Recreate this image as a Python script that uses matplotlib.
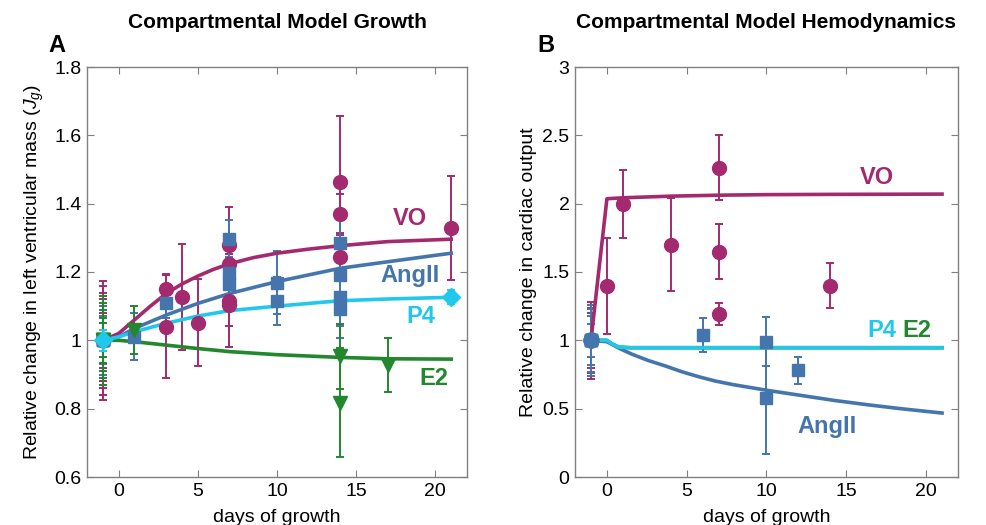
import numpy as np
import matplotlib
matplotlib.use("Agg")
import matplotlib.pyplot as plt

plt.rcParams['font.family'] = ['Liberation Sans', 'DejaVu Sans']
plt.rcParams['mathtext.fontset'] = 'custom'
plt.rcParams['mathtext.it'] = 'Liberation Sans:italic'
plt.rcParams['mathtext.rm'] = 'Liberation Sans'

# colours
c_vo = '#A32A6E'
c_ang = '#4475AD'
c_p4 = '#22C8EC'
c_e2 = '#23872D'

# ---------------- panel A: growth ----------------
# data points (day, value, error)
vo_x = [-1, -1, -1, -1, -1, -1, 3, 3, 4, 5, 7, 7, 7, 7, 14, 14, 14, 21]
vo_y = [1, 1, 1, 1, 1, 1, 1.149, 1.04, 1.126, 1.052, 1.28, 1.223, 1.116, 1.103, 1.4625, 1.369, 1.245, 1.328]
vo_e = [0.175, 0.16, 0.14, 0.12, 0.1, 0.08, 0.045, 0.15, 0.155, 0.127, 0.11, 0.06, 0.136, 0.06, 0.195, 0.06, 0.07, 0.152]

ang_x = [-1, -1, -1, -1, 1, 3, 7, 7, 7, 10, 10, 14, 14, 14, 14]
ang_y = [1, 1, 1, 1, 1.011, 1.11, 1.297, 1.196, 1.165, 1.169, 1.116, 1.285, 1.191, 1.126, 1.091]
ang_e = [0.13, 0.1, 0.07, 0.05, 0.07, 0.045, 0.055, 0.07, 0.08, 0.093, 0.07, 0.1, 0.1, 0.12, 0.05]

p4_x = [-1, 21]
p4_y = [1, 1.126]
p4_e = [0.03, 0.02]

e2_x = [-1, -1, -1, -1, -1, 1, 14, 14, 17]
e2_y = [1, 1, 1, 1, 1, 1.03, 0.954, 0.818, 0.928]
e2_e = [0.13, 0.11, 0.09, 0.065, 0.05, 0.07, 0.095, 0.16, 0.08]

# model curves
vo_cx = [-1, 0, 1, 2, 3, 4, 5, 6, 7, 8.5, 10, 12, 14, 17, 21]
vo_cy = [1.0, 1.02, 1.06, 1.10, 1.137, 1.165, 1.188, 1.208, 1.224, 1.242, 1.255, 1.267, 1.277, 1.289, 1.296]
ang_cx = [-1, 0, 1, 3, 5, 7, 10, 14, 17, 21]
ang_cy = [1.0, 1.01, 1.035, 1.074, 1.108, 1.137, 1.172, 1.211, 1.23, 1.255]
p4_cx = [-1, 0, 1, 3, 5, 7, 10, 14, 17, 21]
p4_cy = [1.0, 1.01, 1.025, 1.05, 1.071, 1.087, 1.10, 1.116, 1.121, 1.126]
e2_cx = [-1, 0, 1, 3, 5, 7, 10, 14, 17, 21]
e2_cy = [1.0, 1.0, 0.996, 0.986, 0.976, 0.967, 0.958, 0.95, 0.946, 0.945]

# ---------------- panel B: hemodynamics ----------------
vo2_x = [-1, -1, -1, -1, 0, 1, 4, 7, 7, 7, 14]
vo2_y = [1, 1, 1, 1, 1.40, 2.0, 1.70, 2.264, 1.648, 1.195, 1.40]
vo2_e = [0.28, 0.26, 0.24, 0.2, 0.35, 0.25, 0.34, 0.235, 0.2, 0.08, 0.165]

ang2_x = [-1, -1, -1, -1, 6, 10, 10, 12]
ang2_y = [1, 1, 1, 1, 1.04, 0.99, 0.58, 0.78]
ang2_e = [0.26, 0.23, 0.18, 0.12, 0.125, 0.18, 0.41, 0.1]

vo2_cx = [-1, 0, 1, 4, 7, 10, 14, 21]
vo2_cy = [1.0, 2.036, 2.043, 2.055, 2.062, 2.066, 2.068, 2.07]
ang2_cx = [-1, 0, 0.4, 0.8, 1.6, 2.6, 3.7, 4.7, 5.8, 6.8, 7.9, 10.0, 12.1, 14.2, 16.3, 18.4, 21]
ang2_cy = [1.0, 0.99, 0.965, 0.94, 0.897, 0.852, 0.811, 0.77, 0.732, 0.702, 0.676, 0.635, 0.598, 0.561, 0.529, 0.5, 0.468]
p42_cx = [-1, 0, 0.3, 0.75, 1.5, 21]
p42_cy = [1.0, 1.0, 0.975, 0.95, 0.946, 0.946]

fig = plt.figure(figsize=(9.87, 5.25), dpi=100)
axA = fig.add_axes([87 / 987, 48 / 525, 380 / 987, 410 / 525])
axB = fig.add_axes([575 / 987, 48 / 525, 383 / 987, 410 / 525])

eb = dict(linestyle='none', elinewidth=1.4, capsize=3, capthick=1.4)

# panel A
axA.errorbar(vo_x, vo_y, yerr=vo_e, fmt='o', color=c_vo, ms=10, **eb)
axA.errorbar(ang_x, ang_y, yerr=ang_e, fmt='s', color=c_ang, ms=8, **eb)
axA.errorbar(e2_x, e2_y, yerr=e2_e, fmt='v', color=c_e2, ms=10, **eb)
axA.plot(vo_cx, vo_cy, color=c_vo, lw=2.6)
axA.plot(ang_cx, ang_cy, color=c_ang, lw=2.6)
axA.plot(e2_cx, e2_cy, color=c_e2, lw=2.6)
axA.plot(p4_cx, p4_cy, color=c_p4, lw=2.6)
axA.errorbar(p4_x, p4_y, yerr=p4_e, fmt='D', color=c_p4, ms=9, zorder=5, **eb)

axA.text(18.4, 1.357, 'VO', color=c_vo, fontsize=17, fontweight='bold', ha='center', va='center')
axA.text(18.4, 1.191, 'AngII', color=c_ang, fontsize=17, fontweight='bold', ha='center', va='center')
axA.text(19.1, 1.069, 'P4', color=c_p4, fontsize=17, fontweight='bold', ha='center', va='center')
axA.text(19.9, 0.889, 'E2', color=c_e2, fontsize=17, fontweight='bold', ha='center', va='center')

axA.set_xlim(-2, 22)
axA.set_ylim(0.6, 1.8)
axA.set_yticks([0.6, 0.8, 1, 1.2, 1.4, 1.6, 1.8])
axA.set_yticklabels(['0.6', '0.8', '1', '1.2', '1.4', '1.6', '1.8'])
axA.set_ylabel(r'Relative change in left ventricular mass ($J_g$)', fontsize=14, labelpad=6)
axA.set_title('Compartmental Model Growth', fontsize=15, fontweight='bold', pad=28)

# panel B
axB.errorbar(vo2_x, vo2_y, yerr=vo2_e, fmt='o', color=c_vo, ms=10, **eb)
axB.errorbar(ang2_x, ang2_y, yerr=ang2_e, fmt='s', color=c_ang, ms=8, **eb)
axB.plot(ang2_cx, ang2_cy, color=c_ang, lw=2.6)
axB.plot(vo2_cx, vo2_cy, color=c_vo, lw=2.6)
axB.plot(p42_cx, p42_cy, color=c_e2, lw=2.6)
axB.plot(p42_cx, p42_cy, color=c_p4, lw=2.6)
axB.plot([-1], [1], 'o', color=c_ang, ms=11, zorder=4)

axB.text(16.9, 2.19, 'VO', color=c_vo, fontsize=17, fontweight='bold', ha='center', va='center')
axB.text(13.8, 0.37, 'AngII', color=c_ang, fontsize=17, fontweight='bold', ha='center', va='center')
axB.text(17.2, 1.07, 'P4', color=c_p4, fontsize=17, fontweight='bold', ha='center', va='center')
axB.text(19.4, 1.07, 'E2', color=c_e2, fontsize=17, fontweight='bold', ha='center', va='center')

axB.set_xlim(-2, 22)
axB.set_ylim(0, 3)
axB.set_yticks([0, 0.5, 1, 1.5, 2, 2.5, 3])
axB.set_yticklabels(['0', '0.5', '1', '1.5', '2', '2.5', '3'])
axB.set_ylabel('Relative change in cardiac output', fontsize=14, labelpad=4)
axB.set_title('Compartmental Model Hemodynamics', fontsize=15, fontweight='bold', pad=28)

for ax in (axA, axB):
    ax.set_xticks([0, 5, 10, 15, 20])
    ax.set_xlabel('days of growth', fontsize=14, labelpad=7)
    ax.tick_params(direction='in', top=True, right=True, length=5, width=0.8,
                   color='#808080', labelsize=14, pad=4)
    for s in ax.spines.values():
        s.set_color('#808080')
        s.set_linewidth(1.0)

fig.text(57 / 987, 1 - 46 / 525, 'A', fontsize=17, fontweight='bold', ha='center', va='center')
fig.text(546 / 987, 1 - 46 / 525, 'B', fontsize=17, fontweight='bold', ha='center', va='center')

fig.savefig('out.png', dpi=100)
